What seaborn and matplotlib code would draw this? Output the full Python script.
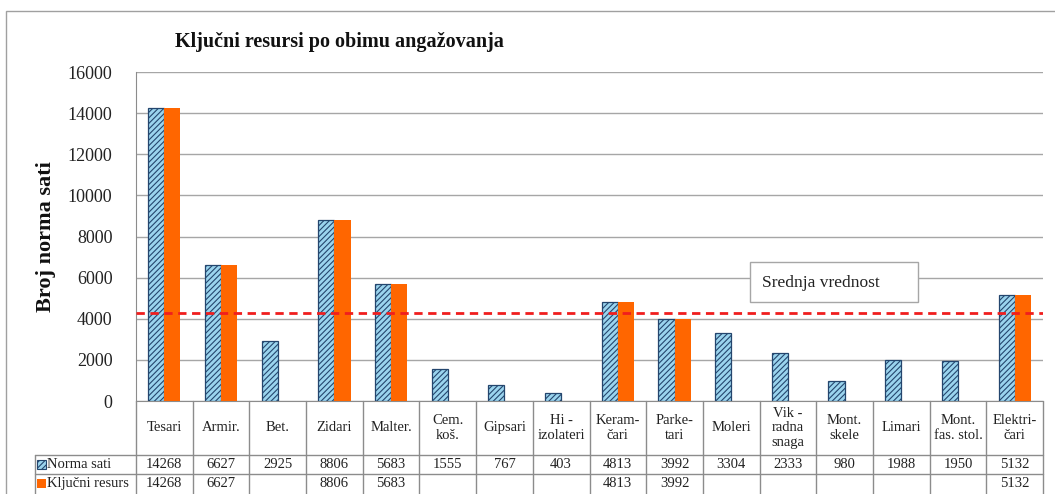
import pandas as pd
import matplotlib.pyplot as plt
import matplotlib.transforms as mtransforms
from matplotlib.patches import Rectangle
import seaborn as sns

categories = ['Tesari', 'Armir.', 'Bet.', 'Zidari', 'Malter.', 'Cem.\nkoš.', 'Gipsari',
              'Hi -\nizolateri', 'Keram-\nčari', 'Parke-\ntari', 'Moleri', 'Vik -\nradna\nsnaga',
              'Mont.\nskele', 'Limari', 'Mont.\nfas. stol.', 'Elektri-\nčari']
norma_sati = [14268, 6627, 2925, 8806, 5683, 1555, 767, 403, 4813, 3992, 3304, 2333, 980, 1988, 1950, 5132]
kljucni_resurs = [14268, 6627, None, 8806, 5683, None, None, None, 4813, 3992, None, None, None, None, None, 5132]
series = ['Norma sati', 'Ključni resurs']
srednja_vrednost = 4300
y_ticks = [0, 2000, 4000, 6000, 8000, 10000, 12000, 14000, 16000]

rows = []
for cat, a, b in zip(categories, norma_sati, kljucni_resurs):
    rows.append({'kat': cat, 'serija': series[0], 'sati': a})
    if b is not None:
        rows.append({'kat': cat, 'serija': series[1], 'sati': b})
df = pd.DataFrame(rows)

sns.set_style('white')
plt.rcParams['font.family'] = ['Liberation Serif', 'DejaVu Serif']
plt.rcParams['hatch.linewidth'] = 0.8

W, H = 1055, 494
fig = plt.figure(figsize=(W / 100, H / 100), dpi=100)
ax = fig.add_axes([136 / W, (H - 401) / H, 907 / W, 329 / H])

blue = '#9AD4EE'
orange = '#FF6600'
hatch_c = '#24466E'
txt_c = '#222222'
sns.barplot(data=df, x='kat', y='sati', hue='serija', order=categories, hue_order=series,
            palette=[blue, orange], width=0.57, saturation=1, legend=False, ax=ax, zorder=3)

for bar in ax.containers[0]:
    bar.set_edgecolor(hatch_c)
    bar.set_hatch('//////')
    bar.set_linewidth(0.9)
for bar in ax.containers[1]:
    bar.set_edgecolor(orange)
    bar.set_linewidth(0)

ax.set_xlim(-0.5, len(categories) - 0.5)
ax.set_ylim(0, 16000)
ax.set_yticks(y_ticks)
ax.set_yticklabels([str(t) for t in y_ticks], fontsize=13, color=txt_c)
ax.tick_params(axis='y', length=0, pad=17)
ax.set_xticks([])
ax.set_xlabel('')
ax.set_ylabel('Broj norma sati', fontsize=16, fontweight='bold', color='#111111')
ax.yaxis.set_label_coords(-0.088, 0.5)
ax.yaxis.grid(True, color='#A6A6A6', linewidth=1, zorder=0)
ax.set_axisbelow(True)
for s in ['top', 'right']:
    ax.spines[s].set_visible(False)
ax.spines['left'].set_color('#8C8C8C')
ax.spines['bottom'].set_color('#8C8C8C')

# srednja vrednost
ax.axhline(srednja_vrednost, color='#F01E1E', linestyle=(0, (3, 2)), linewidth=2, zorder=4)
ax.add_patch(Rectangle((0.677, 0.301), 0.185, 0.122, transform=ax.transAxes,
                       facecolor='white', edgecolor='#A6A6A6', linewidth=1, zorder=5))
ax.text(0.690, 0.360, 'Srednja vrednost', transform=ax.transAxes, fontsize=12.5,
        va='center', ha='left', color=txt_c, zorder=6)

# data table
trans = mtransforms.blended_transform_factory(ax.transData, ax.transAxes)
r0, r1, r2, r3 = 0, -0.1641, -0.2219, -0.30
y_row1 = (r1 + r2) / 2
y_row2 = r2 - 0.030
x_left = -0.5 - 101 / 56.7
line_c = '#8C8C8C'
n = len(categories)
for i in range(n + 1):
    ax.plot([i - 0.5, i - 0.5], [r0, r3], color=line_c, lw=1, transform=trans, clip_on=False)
ax.plot([x_left, x_left], [r1, r3], color=line_c, lw=1, transform=trans, clip_on=False)
for r in (r1, r2):
    ax.plot([x_left, n - 0.5], [r, r], color=line_c, lw=1, transform=trans, clip_on=False)

for i, cat in enumerate(categories):
    ax.text(i, (r0 + r1) / 2, cat, transform=trans, ha='center', va='center',
            fontsize=10.5, linespacing=1.15, color=txt_c)
    ax.text(i, y_row1, str(norma_sati[i]), transform=trans, ha='center', va='center',
            fontsize=10.5, color=txt_c)
    if kljucni_resurs[i] is not None:
        ax.text(i, y_row2, str(kljucni_resurs[i]), transform=trans, ha='center',
                va='center', fontsize=10.5, color=txt_c)

key_w, key_h = 9 / 56.7, 9 / 329
ax.add_patch(Rectangle((x_left + 0.03, y_row1 - key_h / 2), key_w, key_h, transform=trans,
                       facecolor=blue, edgecolor=hatch_c, hatch='//////', lw=0.8, clip_on=False))
ax.add_patch(Rectangle((x_left + 0.03, y_row2 - key_h / 2), key_w, key_h,
                       transform=trans, facecolor=orange, edgecolor=orange, lw=0, clip_on=False))
ax.text(x_left + 0.22, y_row1, series[0], transform=trans, ha='left', va='center',
        fontsize=10.5, color=txt_c)
ax.text(x_left + 0.22, y_row2, series[1], transform=trans, ha='left', va='center',
        fontsize=10.5, color=txt_c)

fig.text(175 / W, 1 - 42 / H, 'Ključni resursi po obimu angažovanja', fontsize=14.5,
         fontweight='bold', va='center', ha='left', color='#111111')

fig.patches.append(Rectangle((6 / W, -0.1), 2, 1.1 - 11 / H, transform=fig.transFigure,
                             fill=False, edgecolor='#A0A0A0', linewidth=1))

plt.savefig('out.png', dpi=100)
